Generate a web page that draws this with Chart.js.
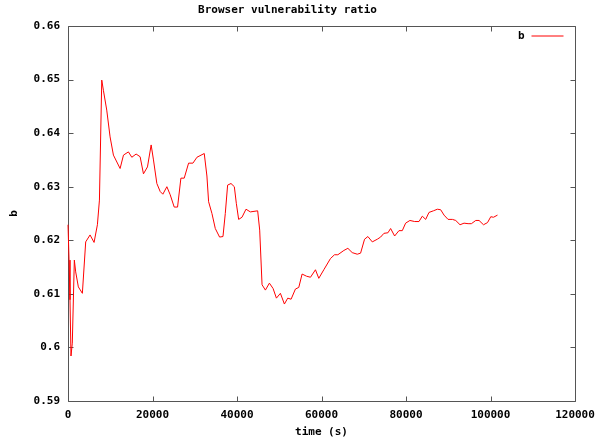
<!DOCTYPE html>
<html>
<head>
<meta charset="utf-8">
<script src="https://cdn.jsdelivr.net/npm/chart.js@4"></script>
<style>
  html, body { margin: 0; padding: 0; background: #fff; }
  canvas { display: block; }
</style>
</head>
<body>
<canvas id="chart" width="600" height="441"></canvas>
<script>
// time in seconds
const times = [
  0, 250, 470, 710, 1020, 1500, 1820, 2450, 3400, 4190, 5220, 6170, 6960, 7440,
  7990, 8380, 9170, 9960, 10750, 12330, 13130, 14300, 15100, 16120, 17070, 17860,
  18810, 19680, 20230, 21030, 21820, 22450, 23400, 24190, 25140, 25930, 26720,
  27510, 28540, 29570, 30520, 32250, 32880, 33280, 34070, 34860, 35880, 36680,
  37230, 37780, 38580, 39370, 39840, 40390, 41180, 42130, 43160, 44890, 45370,
  45930, 46720, 47670, 48540, 49330, 50270, 51220, 52010, 52800, 53830, 54620,
  55410, 56440, 57390, 58570, 59360, 60550, 62130, 63080, 63870, 65290, 66240,
  67270, 68460, 69250, 70190, 70980, 72020, 73210, 73990, 74780, 75720, 76360,
  77310, 78330, 79120, 79910, 80930, 82050, 83070, 83860, 84660, 85440, 86480,
  87430, 88210, 89000, 89950, 90990, 91770, 92790, 93740, 94690, 95480, 96510,
  97290, 98340, 99290, 100070, 100710, 101660
];

// ratio "b"
const bValues = [
  0.6229, 0.6163, 0.6089, 0.5984, 0.6008, 0.6163, 0.6141, 0.6113, 0.6101, 0.6197,
  0.6210, 0.6196, 0.6229, 0.6275, 0.6499, 0.6480, 0.6443, 0.6393, 0.6359, 0.6334,
  0.6359, 0.6365, 0.6355, 0.6361, 0.6356, 0.6324, 0.6337, 0.6378, 0.6350, 0.6306,
  0.6291, 0.6286, 0.6300, 0.6285, 0.6262, 0.6262, 0.6316, 0.6316, 0.6344, 0.6344,
  0.6355, 0.6362, 0.6320, 0.6272, 0.6250, 0.6222, 0.6206, 0.6207, 0.6250, 0.6303,
  0.6306, 0.6300, 0.6269, 0.6239, 0.6243, 0.6258, 0.6253, 0.6255, 0.6219, 0.6117,
  0.6107, 0.6120, 0.6110, 0.6092, 0.6101, 0.6081, 0.6092, 0.6090, 0.6109, 0.6112,
  0.6137, 0.6133, 0.6131, 0.6145, 0.6129, 0.6145, 0.6166, 0.6173, 0.6173, 0.6181,
  0.6185, 0.6177, 0.6174, 0.6176, 0.6202, 0.6207, 0.6197, 0.6202, 0.6206, 0.6213,
  0.6214, 0.6222, 0.6208, 0.6218, 0.6218, 0.6232, 0.6237, 0.6235, 0.6235, 0.6245,
  0.6239, 0.6252, 0.6255, 0.6258, 0.6257, 0.6247, 0.6239, 0.6239, 0.6237, 0.6229,
  0.6232, 0.6231, 0.6231, 0.6237, 0.6237, 0.6229, 0.6233, 0.6244, 0.6243, 0.6247
];

const xTicks = [0, 20000, 40000, 60000, 80000, 100000, 120000];
const yTicks = [0.59, 0.6, 0.61, 0.62, 0.63, 0.64, 0.65, 0.66];

const FONT = 'DejaVu Sans Mono';
const FRAME = '#555555';
const LINE = '#ff0000';

// gnuplot-like frame with inward mirrored ticks + key in the top right
// (drawn before the data so the red line sits on top of the border)
const gnuFrame = {
  id: 'gnuFrame',
  beforeDatasetsDraw(chart) {
    const { ctx, chartArea: a, scales } = chart;
    const L = Math.round(a.left) + 0.5, R = Math.round(a.right) + 0.5;
    const T = Math.round(a.top) + 0.5, B = Math.round(a.bottom) + 0.5;
    ctx.save();
    ctx.strokeStyle = FRAME;
    ctx.lineWidth = 1;
    ctx.beginPath();
    ctx.rect(L, T, R - L, B - T);
    xTicks.forEach((v) => {
      const x = Math.round(scales.x.getPixelForValue(v)) + 0.5;
      ctx.moveTo(x, B); ctx.lineTo(x, B - 5);
      ctx.moveTo(x, T); ctx.lineTo(x, T + 5);
    });
    yTicks.forEach((v) => {
      const y = Math.round(scales.y.getPixelForValue(v)) + 0.5;
      ctx.moveTo(L, y); ctx.lineTo(L + 5, y);
      ctx.moveTo(R, y); ctx.lineTo(R - 5, y);
    });
    ctx.stroke();

    // key
    const ky = T + 10;
    ctx.fillStyle = '#000';
    ctx.font = 'bold 11px ' + FONT;
    ctx.textAlign = 'right';
    ctx.textBaseline = 'middle';
    ctx.fillText(chart.data.datasets[0].label, R - 51, ky);
    ctx.strokeStyle = LINE;
    ctx.beginPath();
    ctx.moveTo(R - 44, ky - 0.5);
    ctx.lineTo(R - 12, ky - 0.5);
    ctx.stroke();
    ctx.restore();
  },
};

new Chart(document.getElementById('chart'), {
  type: 'line',
  data: {
    datasets: [{
      label: 'b',
      data: times.map((t, i) => ({ x: t, y: bValues[i] })),
      borderColor: LINE,
      borderWidth: 1,
      pointRadius: 0,
      tension: 0,
      fill: false,
      clip: 2,
    }],
  },
  plugins: [gnuFrame],
  options: {
    responsive: false,
    animation: false,
    events: [],
    layout: { padding: { top: 0, right: 25, bottom: 0, left: 0 } },
    plugins: {
      legend: { display: false },
      tooltip: { enabled: false },
      title: {
        display: true,
        text: 'Browser vulnerability ratio',
        color: '#000',
        font: { family: FONT, size: 11, weight: 'bold' },
        padding: { top: 3.4, bottom: 9.4 },
      },
    },
    scales: {
      x: {
        type: 'linear',
        min: 0,
        max: 120000,
        grid: { display: false, drawTicks: false },
        border: { display: false },
        afterFit(s) {
          s.height = 40;
          s.paddingLeft = 0;
          s.paddingRight = 0;
        },
        afterBuildTicks(s) { s.ticks = xTicks.map((v) => ({ value: v })); },
        ticks: {
          color: '#000',
          padding: 8,
          maxRotation: 0,
          autoSkip: false,
          font: { family: FONT, size: 11, weight: 'bold' },
          callback: (v) => String(v),
        },
        title: {
          display: true,
          text: 'time (s)',
          color: '#000',
          font: { family: FONT, size: 11, weight: 'bold' },
          padding: { top: 0, bottom: 2.4 },
        },
      },
      y: {
        min: 0.59,
        max: 0.66,
        grid: { display: false, drawTicks: false },
        border: { display: false },
        afterFit(s) { s.width = 68; },
        afterBuildTicks(s) { s.ticks = yTicks.map((v) => ({ value: v })); },
        ticks: {
          color: '#000',
          padding: 8,
          autoSkip: false,
          font: { family: FONT, size: 11, weight: 'bold' },
          callback: (v) => String(Number(v.toFixed(2))),
        },
        title: {
          display: true,
          text: 'b',
          color: '#000',
          font: { family: FONT, size: 11, weight: 'bold' },
          padding: { top: 7.4, bottom: 0 },
        },
      },
    },
  },
});
</script>
</body>
</html>
